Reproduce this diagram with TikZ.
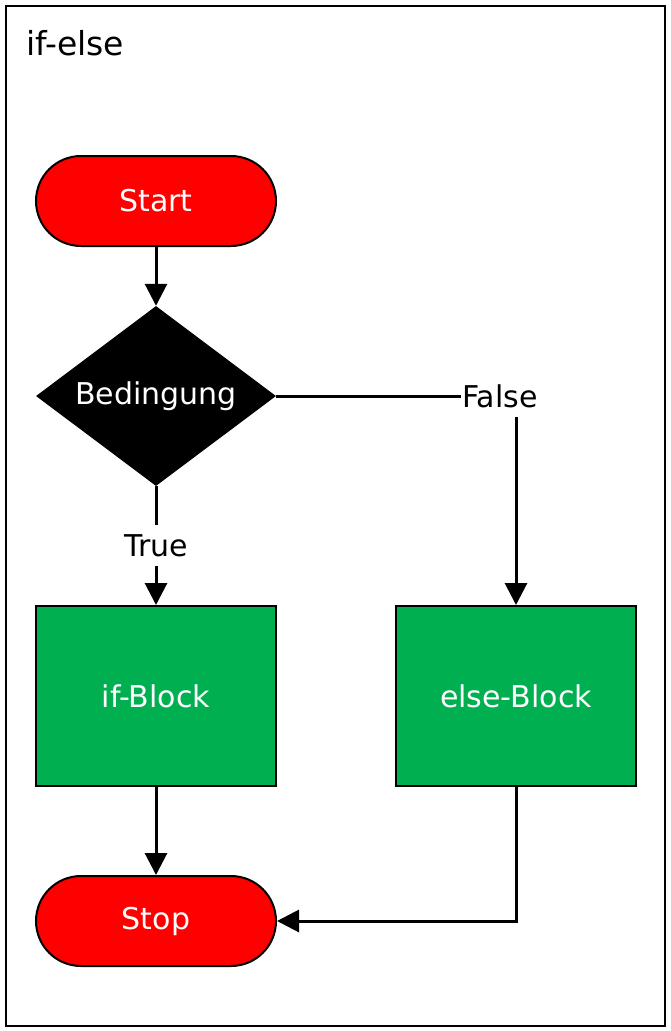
\documentclass[tikz,border=0pt]{standalone}
\usepackage{fontspec}
\setmainfont{DejaVu Sans}
\usetikzlibrary{arrows.meta,shapes.geometric}
\definecolor{blockgreen}{RGB}{0,176,80}

\begin{document}
\begin{tikzpicture}[x=1pt,y=-1pt,>={Triangle[length=22pt,width=22pt]},font=\fontsize{30}{35}\selectfont,
  terminal/.style={draw,line width=2pt,fill=red,text=white,rounded corners=45pt,minimum width=240pt,minimum height=90pt},
  block/.style={draw,line width=2pt,fill=blockgreen,text=white,minimum width=240pt,minimum height=180pt},
  decision/.style={diamond,fill=black,text=white,aspect=1.33,inner sep=0pt,minimum width=240pt,minimum height=180pt},
  flow/.style={->,line width=3pt},
  branchlabel/.style={fill=white,inner xsep=1pt,inner ysep=9pt}]
\useasboundingbox (0,0) rectangle (670,1031);
\draw[line width=2pt] (6,6) rectangle (665,1026);
\node[anchor=base west,inner sep=0pt,font=\fontsize{33}{38}\selectfont] (title) at (26,55) {if-else};
% nodes
\node[terminal] (start) at (156,201) {Start};
\node[decision] (check) at (156,396) {Bedingung};
\node[block] (ifblk) at (156,696) {if-Block};
\node[block] (elseblk) at (516,696) {else-Block};
\node[terminal] (stop) at (156,921) {Stop};
% connectors
\draw[flow] (start) -- (check);
\draw[flow] (check) -- node[branchlabel] (true) {True} (ifblk);
\draw[flow] (check.east) -| (elseblk.north);
\node[branchlabel] (false) at (500,396) {False};
\draw[flow] (ifblk) -- (stop);
\draw[flow] (elseblk.south) |- (stop.east);
\end{tikzpicture}
\end{document}
